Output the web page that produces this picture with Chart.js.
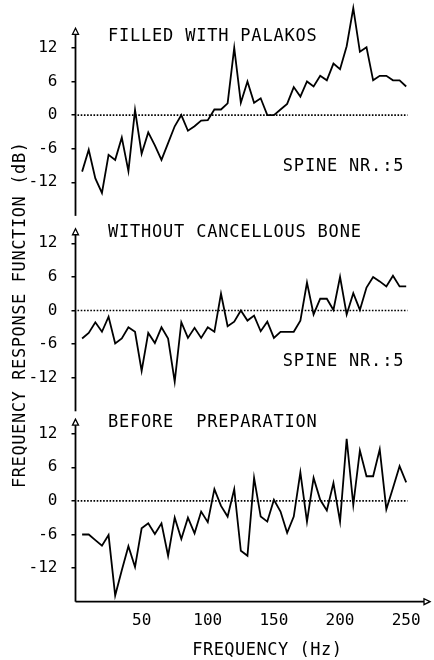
<!DOCTYPE html>
<html>
<head>
<meta charset="utf-8">
<script src="https://cdn.jsdelivr.net/npm/chart.js@4.4.1/dist/chart.umd.min.js"></script>
<style>
  body { margin: 0; background: #fff; }
  #wrap { width: 434px; height: 660px; }
</style>
</head>
<body>
<div id="wrap"><canvas id="frf"></canvas></div>
<script>
// frequency (Hz) of each measured point
const frequencies = [5, 10, 15, 20, 25, 30, 35, 40, 45, 50,
  55, 60, 65, 70, 75, 80, 85, 90, 95, 100,
  105, 110, 115, 120, 125, 130, 135, 140, 145, 150,
  155, 160, 165, 170, 175, 180, 185, 190, 195, 200,
  205, 210, 215, 220, 225, 230, 235, 240, 245, 250];

// response in dB, one array per panel
const filledPalakos = [-10.1, -6.2, -11.3, -13.9, -7.1, -8.0, -4.0, -10.0, 0.9, -6.9,
  -3.1, -5.4, -8.0, -5.0, -2.0, 0, -2.8, -2.0, -1.0, -0.9,
  1.0, 1.0, 2.1, 12.0, 2.2, 6.0, 2.2, 3.0, 0, 0,
  1.0, 2.0, 5.0, 3.3, 6.0, 5.1, 7.0, 6.2, 9.2, 8.2,
  12.3, 19.1, 11.3, 12.1, 6.2, 7.0, 7.0, 6.2, 6.2, 5.1];

const withoutCancellous = [-5.0, -4.0, -2.1, -3.8, -1.1, -5.9, -5.0, -3.0, -3.8, -10.8,
  -4.0, -5.8, -3.0, -5.0, -12.7, -2.1, -4.9, -3.1, -4.9, -3.0,
  -3.8, 3.0, -2.8, -2.0, 0, -1.8, -0.9, -3.7, -2.0, -4.9,
  -3.8, -3.8, -3.8, -1.8, 5.0, -0.7, 2.1, 2.1, 0.1, 6.0,
  -0.7, 3.1, 0.1, 4.1, 6.0, 5.2, 4.3, 6.2, 4.3, 4.3];

const beforePreparation = [-6.0, -6.0, -7.0, -8.0, -6.1, -16.9, -12.4, -8.1, -11.8, -4.9,
  -4.0, -5.9, -4.0, -9.8, -3.0, -6.8, -3.0, -5.8, -1.9, -3.8,
  2.1, -0.9, -2.8, 2.1, -8.9, -9.8, 4.1, -2.8, -3.7, 0.2,
  -1.9, -5.7, -2.8, 5.1, -3.7, 4.1, 0.2, -1.7, 3.2, -3.7,
  11.1, -0.7, 9.0, 4.4, 4.4, 9.2, -1.5, 2.3, 6.2, 3.3];

const yTicks = [-12, -6, 0, 6, 12];
const xTicks = [50, 100, 150, 200, 250];
const panelTitles = ['FILLED WITH PALAKOS', 'WITHOUT CANCELLOUS BONE', 'BEFORE  PREPARATION'];
const spineLabels = ['SPINE NR.:5', 'SPINE NR.:5', ''];

const monoFont = "'DejaVu Sans Mono', monospace";

// axis id, range and arrow tip of each panel (top to bottom)
const panels = [
  { axis: 'y1', min: -18.9, max: 16.3, tip: 15.5, weight: 3 },
  { axis: 'y2', min: -18, max: 16, tip: 14.6, weight: 2 },
  { axis: 'y3', min: -18, max: 16, tip: 14.6, weight: 1 }
];

function toPoints(values) {
  return frequencies.map((f, i) => ({ x: f, y: values[i] }));
}

function panelAxis(p) {
  return {
    type: 'linear',
    position: 'left',
    stack: 'frf',
    stackWeight: p.max - p.min,
    weight: p.weight,
    min: p.min,
    max: p.max,
    afterBuildTicks: s => { s.ticks = yTicks.map(v => ({ value: v })); },
    afterFit: s => { s.width = 75.5; },
    grid: { display: true, drawOnChartArea: false, drawTicks: true, tickLength: 4, color: '#000', lineWidth: 1.5 },
    border: { display: false },
    ticks: { padding: 14, color: '#000', font: { family: monoFont, size: 16 } }
  };
}

const decorations = {
  id: 'decorations',
  afterDatasetsDraw(chart) {
    const { ctx, scales, chartArea } = chart;
    const x = scales.x;
    const x0 = x.getPixelForValue(0);
    ctx.save();
    ctx.strokeStyle = '#000';
    ctx.fillStyle = '#000';
    panels.forEach((p, i) => {
      const y = scales[p.axis];
      const zero = y.getPixelForValue(0);
      ctx.lineWidth = 1.6;
      ctx.setLineDash([1.6, 1.6]);
      ctx.beginPath();
      ctx.moveTo(x0 + 2, zero);
      ctx.lineTo(x.getPixelForValue(251), zero);
      ctx.stroke();
      ctx.setLineDash([]);

      const tip = y.getPixelForValue(p.tip);
      const base = y.getPixelForValue(-18);
      ctx.lineWidth = 1.8;
      ctx.beginPath();
      ctx.moveTo(x0, base);
      ctx.lineTo(x0, tip + 6);
      ctx.stroke();
      ctx.lineWidth = 1.3;
      ctx.beginPath();
      ctx.moveTo(x0, tip);
      ctx.lineTo(x0 - 3, tip + 6);
      ctx.lineTo(x0 + 3, tip + 6);
      ctx.closePath();
      ctx.stroke();

      ctx.font = '17px ' + monoFont;
      ctx.letterSpacing = '0.8px';
      ctx.textBaseline = 'middle';
      ctx.textAlign = 'left';
      ctx.fillText(panelTitles[i], x.getPixelForValue(24.5), y.getPixelForValue(14));
      if (spineLabels[i]) {
        ctx.textAlign = 'right';
        ctx.fillText(spineLabels[i], x.getPixelForValue(248.5), y.getPixelForValue(-9.2));
      }
    });

    // frequency axis with arrow
    const yb = chartArea.bottom;
    const xr = chartArea.right;
    ctx.lineWidth = 1.8;
    ctx.beginPath();
    ctx.moveTo(x0, yb);
    ctx.lineTo(xr - 6, yb);
    ctx.stroke();
    ctx.lineWidth = 1.3;
    ctx.beginPath();
    ctx.moveTo(xr, yb);
    ctx.lineTo(xr - 6, yb - 3);
    ctx.lineTo(xr - 6, yb + 3);
    ctx.closePath();
    ctx.stroke();

    ctx.font = '17px ' + monoFont;
    ctx.letterSpacing = '0.5px';
    ctx.textAlign = 'center';
    ctx.textBaseline = 'middle';
    ctx.fillText('FREQUENCY (Hz)', x.getPixelForValue(145), yb + 49);

    ctx.translate(21, (chartArea.top + chartArea.bottom) / 2 + 2);
    ctx.rotate(-Math.PI / 2);
    ctx.letterSpacing = '0.6px';
    ctx.fillText('FREQUENCY RESPONSE FUNCTION (dB)', 0, 0);
    ctx.restore();
  }
};

const seriesStyle = {
  borderColor: '#000',
  borderWidth: 1.8,
  pointRadius: 0,
  tension: 0,
  fill: false,
  clip: false
};

const scales = {
  x: {
    type: 'linear',
    min: 0,
    max: 268,
    afterBuildTicks: s => { s.ticks = xTicks.map(v => ({ value: v })); },
    afterFit: s => { s.height = 58.3; },
    grid: { display: false },
    border: { display: false },
    ticks: { padding: 2, color: '#000', maxRotation: 0, autoSkip: false, font: { family: monoFont, size: 16 } }
  }
};
panels.forEach(p => { scales[p.axis] = panelAxis(p); });

new Chart(document.getElementById('frf'), {
  type: 'line',
  data: {
    datasets: [
      { ...seriesStyle, label: panelTitles[0], data: toPoints(filledPalakos), yAxisID: 'y1' },
      { ...seriesStyle, label: panelTitles[1], data: toPoints(withoutCancellous), yAxisID: 'y2' },
      { ...seriesStyle, label: panelTitles[2], data: toPoints(beforePreparation), yAxisID: 'y3' }
    ]
  },
  options: {
    responsive: true,
    maintainAspectRatio: false,
    animation: false,
    layout: { padding: { top: 23.8, right: 4, bottom: 0, left: 0 } },
    plugins: { legend: { display: false }, tooltip: { enabled: false } },
    scales: scales
  },
  plugins: [decorations]
});
</script>
</body>
</html>
